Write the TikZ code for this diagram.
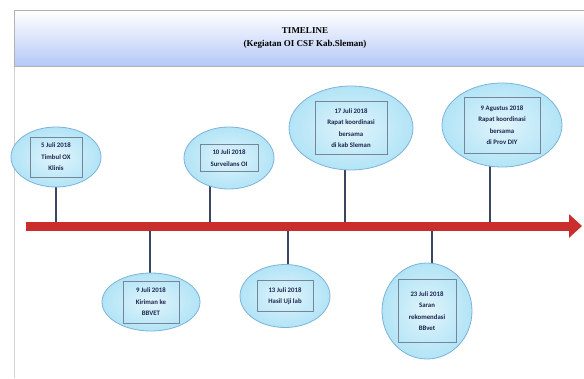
\documentclass[tikz,border=0pt]{standalone}
\usepackage{fontspec}
\setmainfont{Carlito}
\newfontfamily\headfont{Liberation Serif}
\usetikzlibrary{shapes.geometric,arrows.meta,backgrounds}

\definecolor{bubblefill}{RGB}{178,228,246}
\definecolor{bubbleline}{RGB}{125,178,218}
\definecolor{boxline}{RGB}{120,132,152}
\definecolor{barred}{RGB}{201,46,44}
\definecolor{stemgray}{RGB}{58,70,96}
\definecolor{headblue}{RGB}{180,200,246}
\definecolor{inktext}{RGB}{28,38,78}

\begin{document}
\begin{tikzpicture}[x=1pt, y=-1pt,
  bubble/.style={ellipse, draw=bubbleline, line width=0.8pt, inner color=bubblefill!40, outer color=bubblefill, inner sep=0pt},
  datebox/.style={draw=boxline, line width=0.4pt, align=center, inner sep=1pt, text=inktext,
    font=\fontsize{6.8}{11.5}\selectfont\bfseries},
  stem/.style={stemgray, line width=1.6pt}]

  \useasboundingbox (0,0) rectangle (584,378);

  % header band
  \node[draw=gray!60, line width=1pt, top color=white, bottom color=headblue,
    minimum width=580pt, minimum height=56pt, anchor=north west] (head) at (14,10) {};
  \node[font=\headfont\bfseries\fontsize{9}{12.5}\selectfont, align=center] (title) at (305,38)
    {TIMELINE\\(Kegiatan OI CSF Kab.Sleman)};
  \coordinate (margin) at (14,378);
  \draw[gray!35, line width=1pt] (head.south west) -- (margin);

  % events
  \foreach \n/\x/\y/\w/\h/\bw/\bh/\txt in {
      1/56/157/90/60/52/40/{5 Juli 2018\\Timbul OX\\Klinis},
      2/229/158/90/62/58/27/{10 Juli 2018\\Surveilans OI},
      3/351/128/124/84/72/53/{17 Juli 2018\\Rapat koordinasi\\bersama\\di kab Sleman},
      4/502/125/120/84/76/56/{9 Agustus 2018\\Rapat koordinasi\\bersama\\di Prov DIY},
      5/151/302/98/58/56/42/{9 Juli 2018\\Kiriman ke\\BBVET},
      6/285/296/90/63/56/31/{13 Juli 2018\\Hasil Uji lab},
      7/427/311/90/96/58/63/{23 Juli 2018\\Saran\\rekomendasi\\BBvet}} {
    \node[bubble, minimum width=\w pt, minimum height=\h pt] (e\n) at (\x,\y) {};
    \node[datebox, minimum width=\bw pt, minimum height=\bh pt] (d\n) at (e\n) {\txt};
  }

  \begin{scope}[on background layer]
    \foreach \n/\sx in {1/56, 2/210, 3/345, 4/490, 5/150, 6/288, 7/432} {
      \coordinate (t\n) at (\sx,226);
      \draw[stem] (t\n) -- (t\n |- e\n.center);
    }
    % time axis
    \coordinate (start) at (26,226);
    \coordinate (stop) at (582,226);
    \draw[barred, line width=9pt, -{Triangle[length=13pt, width=23pt]}] (start) -- (stop);
  \end{scope}

\end{tikzpicture}
\end{document}
